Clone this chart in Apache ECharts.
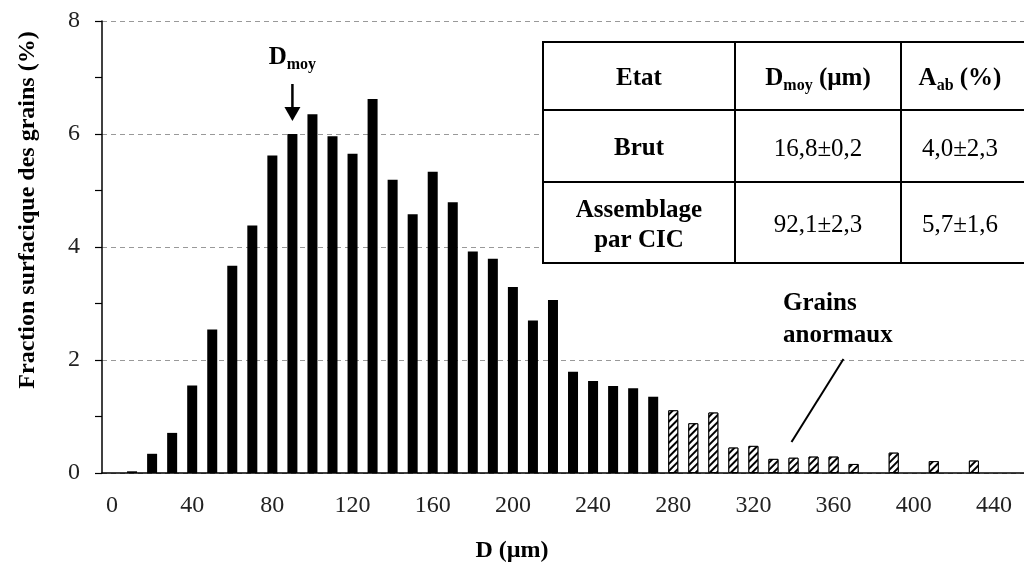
<!DOCTYPE html>
<html lang="fr">
<head>
<meta charset="UTF-8">
<script src="https://cdn.jsdelivr.net/npm/echarts@6/dist/echarts.min.js"></script>
<style>
    html, body { margin: 0; background: #fff; }
    #chart { width: 1024px; height: 565px; }
</style>
</head>
<body>
<div id="chart"></div>
<script>
    // classes de taille de grain (µm)
    var sizes = ['0', '10', '20', '30', '40', '50', '60', '70', '80', '90',
        '100', '110', '120', '130', '140', '150', '160', '170', '180', '190',
        '200', '210', '220', '230', '240', '250', '260', '270', '280', '290',
        '300', '310', '320', '330', '340', '350', '360', '370', '380', '390',
        '400', '410', '420', '430', '440', '450'];
    // fraction surfacique (%), grains normaux : 0 -> 270 µm
    var normalGrains = ['-', 0.03, 0.34, 0.71, 1.55, 2.54, 3.67, 4.38, 5.62, 6.0,
        6.35, 5.96, 5.65, 6.62, 5.19, 4.58, 5.33, 4.79, 3.92, 3.79,
        3.29, 2.70, 3.06, 1.79, 1.63, 1.54, 1.50, 1.35];
    // grains anormaux : 280 -> 450 µm
    var abnormalGrains = [1.11, 0.88, 1.07, 0.45, 0.48, 0.25, 0.27, 0.29, 0.29, 0.16,
        '-', 0.36, '-', 0.21, '-', 0.22, '-', '-'];
    var yTicks = [0, 2, 4, 6, 8];
    var tableHead = ['{b|Etat}', '{b|D}{s|moy}{b| (µm)}', '{b|A}{s|ab}{b| (%)}'];
    var tableRows = [
        ['{b|Brut}', '{r|16,8±0,2}', '{r|4,0±2,3}'],
        ['{b|Assemblage}\n{b|par CIC}', '{r|92,1±2,3}', '{r|5,7±1,6}']
    ];

    var FONT = 'Liberation Serif';

    var blanks = function (n) { var a = []; for (var i = 0; i < n; i++) a.push('-'); return a; };
    var solidData = normalGrains.concat(blanks(sizes.length - normalGrains.length));
    var hatchData = blanks(sizes.length - abnormalGrains.length).concat(abnormalGrains);

    var chart = echarts.init(document.getElementById('chart'));

    var option = {
        animation: false,
        backgroundColor: '#fff',
        textStyle: { fontFamily: FONT },
        grid: { left: 102, top: 21, width: 924, height: 452 },
        xAxis: {
            type: 'category',
            data: sizes,
            boundaryGap: true,
            axisLine: { lineStyle: { color: '#000', width: 1.5 } },
            axisTick: { interval: 1, length: 8, lineStyle: { color: '#000', width: 1.2 } },
            axisLabel: { interval: 3, margin: 21, fontFamily: FONT, fontSize: 24, color: '#222' }
        },
        yAxis: {
            type: 'value',
            min: yTicks[0],
            max: yTicks[yTicks.length - 1],
            interval: 2,
            axisLine: { show: true, lineStyle: { color: '#000', width: 1.5 } },
            axisTick: { show: true, length: 7, lineStyle: { color: '#000', width: 1.2 } },
            minorTick: { show: true, splitNumber: 2, length: 7, lineStyle: { color: '#000', width: 1.2 } },
            splitLine: { lineStyle: { color: '#999', type: [5, 4], width: 1 } },
            axisLabel: { margin: 22, fontFamily: FONT, fontSize: 24, color: '#222' }
        },
        series: [
            {
                type: 'bar',
                data: solidData,
                barWidth: 10,
                barGap: '-100%',
                itemStyle: { color: '#000' }
            },
            {
                type: 'bar',
                data: hatchData,
                barWidth: 10,
                itemStyle: {
                    color: '#fff',
                    borderColor: '#000',
                    borderWidth: 1,
                    decal: {
                        symbol: 'rect',
                        symbolSize: 1,
                        dashArrayX: [1, 0],
                        dashArrayY: [1.6, 2.2],
                        rotation: -Math.PI / 4,
                        color: '#000',
                        backgroundColor: '#fff'
                    }
                }
            }
        ]
    };
    chart.setOption(option);

    // tableau en haut à droite
    var colX = [543, 735, 901, 1040];
    var rowY = [42, 110, 182, 263];
    var rich = {
        b: { fontFamily: FONT, fontSize: 25, fontWeight: 'bold', color: '#000', lineHeight: 30 },
        s: { fontFamily: FONT, fontSize: 16, fontWeight: 'bold', color: '#000', lineHeight: 16, verticalAlign: 'bottom' },
        r: { fontFamily: FONT, fontSize: 25, color: '#111', lineHeight: 30 }
    };
    var colCenter = [639, 818, 960];
    var graphics = [];
    graphics.push({ type: 'rect', shape: { x: colX[0], y: rowY[0], width: colX[3] - colX[0], height: rowY[3] - rowY[0] },
        style: { fill: '#fff' }, z: 10 });
    rowY.forEach(function (y) {
        graphics.push({ type: 'line', shape: { x1: colX[0] - 1, y1: y, x2: colX[3], y2: y },
            style: { stroke: '#000', lineWidth: 2 }, z: 11 });
    });
    colX.slice(0, 3).forEach(function (x) {
        graphics.push({ type: 'line', shape: { x1: x, y1: rowY[0], x2: x, y2: rowY[3] },
            style: { stroke: '#000', lineWidth: 2 }, z: 11 });
    });
    [tableHead].concat(tableRows).forEach(function (row, r) {
        row.forEach(function (txt, c) {
            graphics.push({ type: 'text', x: colCenter[c], y: (rowY[r] + rowY[r + 1]) / 2 + 3, z: 12,
                style: { text: txt, rich: rich, align: 'center', verticalAlign: 'middle' } });
        });
    });

    // titres des axes
    graphics.push({ type: 'text', x: 28, y: 210, rotation: Math.PI / 2,
        style: { text: 'Fraction surfacique des grains (%)', fontFamily: FONT, fontSize: 24, fontWeight: 'bold',
            fill: '#000', align: 'center', verticalAlign: 'middle' } });
    graphics.push({ type: 'text', x: 512, y: 551,
        style: { text: 'D (µm)', fontFamily: FONT, fontSize: 24, fontWeight: 'bold',
            fill: '#000', align: 'center', verticalAlign: 'middle' } });

    // flèche D_moy au dessus de la classe 90 µm
    var pMoy = chart.convertToPixel({ seriesIndex: 0 }, ['90', normalGrains[9]]);
    var tipY = pMoy[1] - 13;
    graphics.push({ type: 'line', shape: { x1: pMoy[0], y1: tipY - 37, x2: pMoy[0], y2: tipY - 10 },
        style: { stroke: '#000', lineWidth: 2.5 } });
    graphics.push({ type: 'polygon', shape: { points: [[pMoy[0] - 8, tipY - 14], [pMoy[0] + 8, tipY - 14], [pMoy[0], tipY]] },
        style: { fill: '#000' } });
    graphics.push({ type: 'text', x: pMoy[0], y: tipY - 63,
        style: { text: '{b|D}{s|moy}', rich: rich, align: 'center', verticalAlign: 'middle' } });

    // Grains anormaux
    var pAb = chart.convertToPixel({ seriesIndex: 1 }, ['340', 0.55]);
    graphics.push({ type: 'line', shape: { x1: pAb[0] - 2, y1: pAb[1], x2: pAb[0] + 50, y2: pAb[1] - 83 },
        style: { stroke: '#000', lineWidth: 2 } });
    graphics.push({ type: 'text', x: 783, y: 320,
        style: { text: 'Grains\nanormaux', fontFamily: FONT, fontSize: 25, fontWeight: 'bold', fill: '#000',
            lineHeight: 32, align: 'left', verticalAlign: 'middle' } });

    chart.setOption({ graphic: graphics });
</script>
</body>
</html>
